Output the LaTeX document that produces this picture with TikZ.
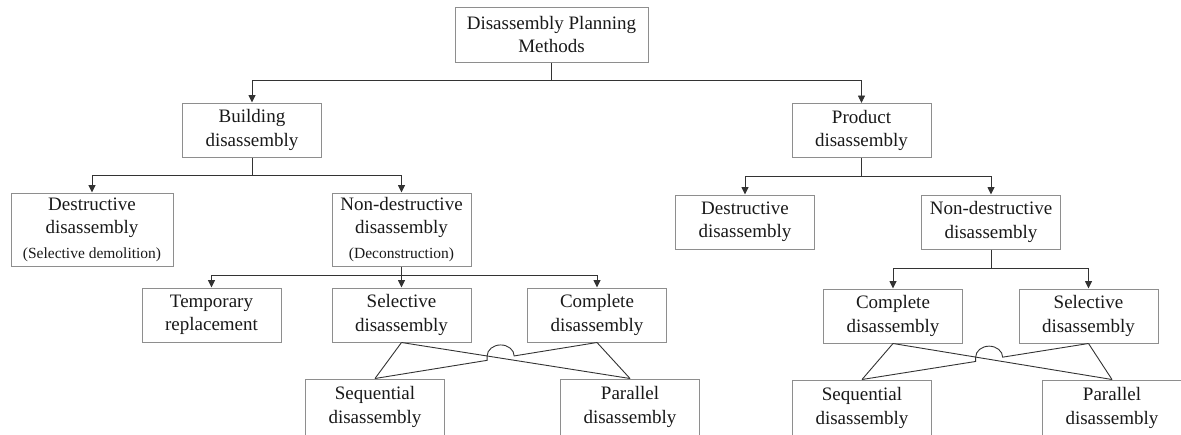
\documentclass[tikz,border=0pt]{standalone}
\usepackage{fontspec}
\setmainfont{Liberation Serif}
\usetikzlibrary{arrows.meta,calc}
\definecolor{boxgray}{HTML}{8E8E8E}
\definecolor{linegray}{HTML}{333333}
\newcommand{\subnote}[1]{{\fontsize{15.5}{23.5}\selectfont #1}}
\begin{document}
\begin{tikzpicture}[x=1pt,y=-1pt,
  box/.style={draw=boxgray, line width=1pt, inner sep=0pt, align=center,
    text=black!90, minimum width=139pt, minimum height=54pt,
    font=\fontsize{19}{23.5}\selectfont},
  link/.style={draw=linegray, line width=0.9pt},
  arr/.style={link, -{Triangle[length=7.5pt,width=7pt]}}]
\useasboundingbox (0,0) rectangle (1181,434);

% root
\node[box, minimum width=193pt, minimum height=55pt] (root) at (551.5,34.5) {Disassembly Planning\\Methods};

% second level
\node[box] (build) at (252,130) {Building\\disassembly};
\node[box] (prod) at (861.5,130.5) {Product\\disassembly};

% building branch
\node[box, minimum width=162pt, minimum height=73pt] (bdes) at (92,229.5) {Destructive\\disassembly\\[1pt]\subnote{(Selective demolition)}};
\node[box, minimum height=73pt] (bnon) at (401.5,229.5) {Non-destructive\\disassembly\\[1pt]\subnote{(Deconstruction)}};
\node[box] (temp) at (211.5,315) {Temporary\\replacement};
\node[box] (bsel) at (401.5,315) {Selective\\disassembly};
\node[box] (bcom) at (597,315) {Complete\\disassembly};
\node[box, minimum height=56pt] (bseq) at (375,407) {Sequential\\disassembly};
\node[box, minimum height=56pt] (bpar) at (630,407) {Parallel\\disassembly};

% product branch
\node[box] (pdes) at (745,222) {Destructive\\disassembly};
\node[box] (pnon) at (991,222) {Non-destructive\\disassembly};
\node[box] (pcom) at (893,316) {Complete\\disassembly};
\node[box] (psel) at (1088.5,316) {Selective\\disassembly};
\node[box, minimum height=56pt] (pseq) at (862,408) {Sequential\\disassembly};
\node[box, minimum height=56pt] (ppar) at (1112,408) {Parallel\\disassembly};

% tree connectors
\coordinate (j0) at (551.5,80);
\draw[link] (root.south) -- (j0);
\draw[arr] (j0) -| (build.north);
\draw[arr] (j0) -| (prod.north);

\coordinate (j1) at (252,175);
\draw[link] (build.south) -- (j1);
\draw[arr] (j1) -| (bdes.north);
\draw[arr] (j1) -| (bnon.north);

\coordinate (j2) at (861.5,176);
\draw[link] (prod.south) -- (j2);
\draw[arr] (j2) -| (pdes.north);
\draw[arr] (j2) -| (pnon.north);

\coordinate (j3) at (401.5,275);
\draw[link] (bnon.south) -- (j3);
\draw[arr] (j3) -| (temp.north);
\draw[arr] (j3) -- (bsel.north);
\draw[arr] (j3) -| (bcom.north);

\coordinate (j4) at (991,268);
\draw[link] (pnon.south) -- (j4);
\draw[arr] (j4) -| (pcom.north);
\draw[arr] (j4) -| (psel.north);

% crossed links, building side
\draw[link] (bsel.south) -- (bseq.north);
\draw[link] (bsel.south) -- (bpar.north);
\draw[link] (bcom.south) -- (bpar.north);
\coordinate (bx) at (intersection of bsel.south--bpar.north and bcom.south--bseq.north);
\coordinate (bh1) at ($(bx)!13.7pt!(bseq.north)$);
\coordinate (bh2) at ($(bx)!13.7pt!(bcom.south)$);
\draw[link] (bseq.north) -- (bh1) -- (bh1 |- bh2)
  arc[start angle=180, end angle=360, x radius=13.5, y radius=11] -- (bcom.south);

% crossed links, product side
\draw[link] (pcom.south) -- (pseq.north);
\draw[link] (pcom.south) -- (ppar.north);
\draw[link] (psel.south) -- (ppar.north);
\coordinate (px) at (intersection of pcom.south--ppar.north and psel.south--pseq.north);
\coordinate (ph1) at ($(px)!13.7pt!(pseq.north)$);
\coordinate (ph2) at ($(px)!13.7pt!(psel.south)$);
\draw[link] (pseq.north) -- (ph1) -- (ph1 |- ph2)
  arc[start angle=180, end angle=360, x radius=13.5, y radius=11] -- (psel.south);
\end{tikzpicture}
\end{document}
